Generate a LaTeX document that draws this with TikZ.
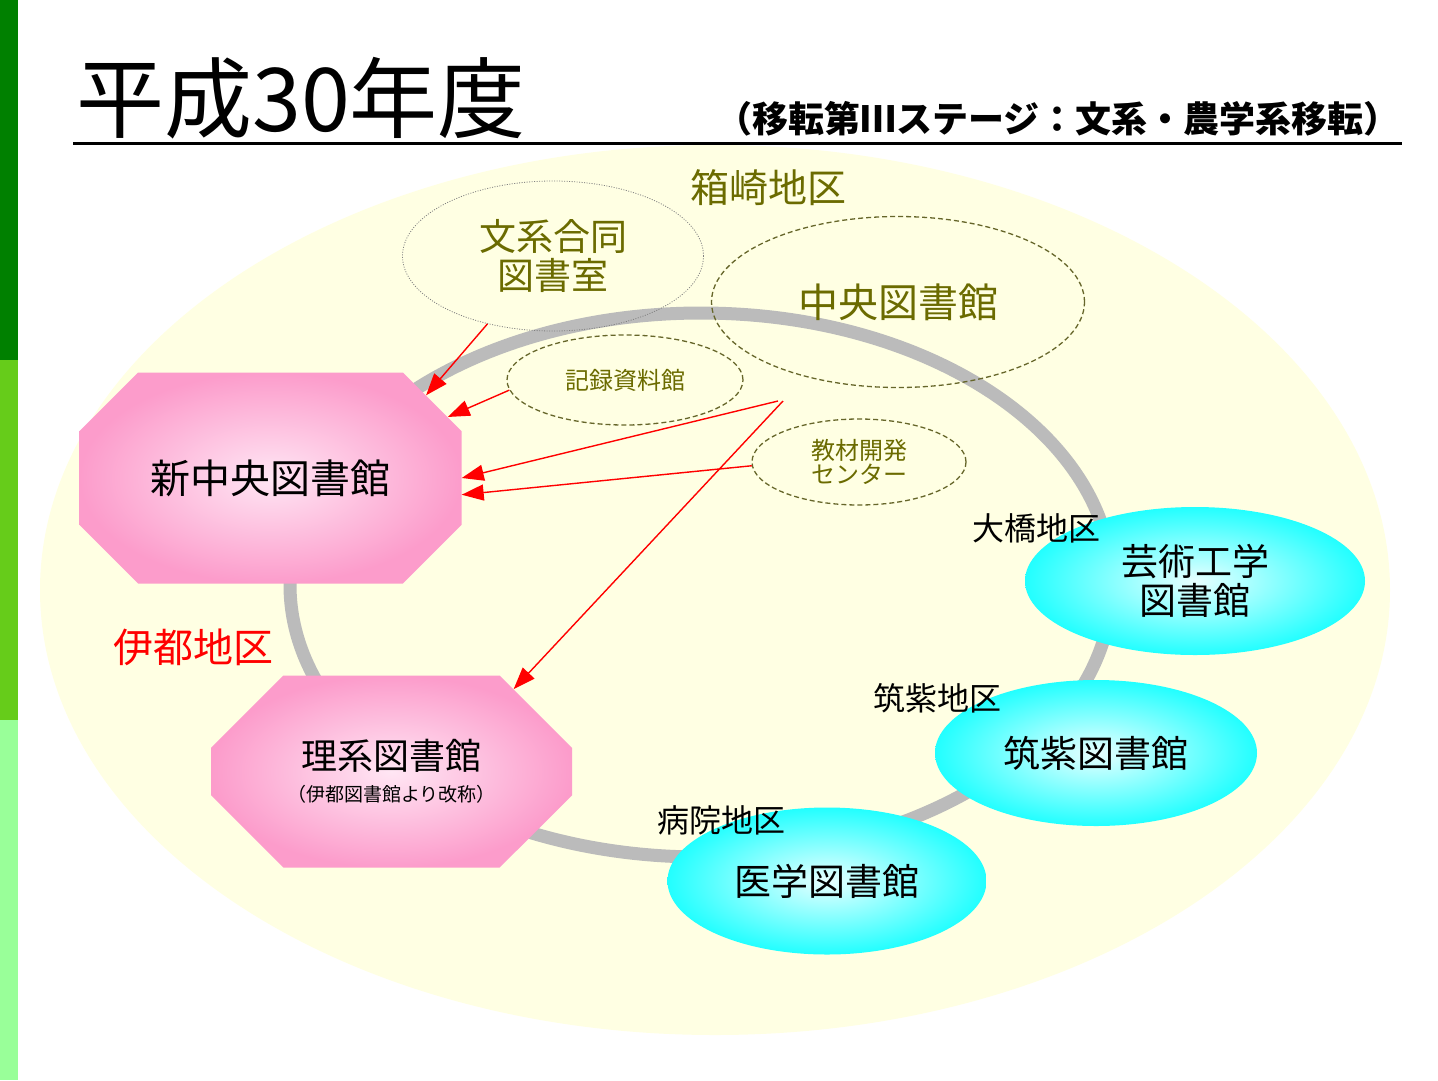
\documentclass[tikz,border=0pt]{standalone}
\usepackage{fontspec}
\setmainfont{Noto Sans CJK JP}
\usetikzlibrary{shapes.geometric,shapes.misc,arrows.meta}

\definecolor{bardark}{HTML}{008000}
\definecolor{barmid}{HTML}{66CC1A}
\definecolor{barpale}{HTML}{99FF99}
\definecolor{campus}{HTML}{FFFFE3}
\definecolor{ringgray}{HTML}{BBBBBB}
\definecolor{oldtext}{HTML}{6B6B00}
\definecolor{olddash}{HTML}{66662A}
\definecolor{pinkout}{HTML}{FC9CCB}
\definecolor{pinkin}{HTML}{FFE6F4}
\definecolor{cyanout}{HTML}{22FFFF}
\definecolor{cyanin}{HTML}{E8FFFF}

\newcommand{\fs}[1]{\fontsize{#1}{1.15\dimexpr #1pt\relax}\selectfont}

\tikzset{
  newlib/.style={chamfered rectangle, chamfered rectangle xsep=40pt,
    chamfered rectangle ysep=40pt, inner sep=0pt,
    shade, shading=radial, inner color=pinkin, outer color=pinkout,
    align=center, font=\fs{40}},
  otherlib/.style={ellipse, inner sep=0pt, shade, shading=radial,
    inner color=cyanin, outer color=cyanout, align=center, font=\fs{37}},
  oldlib/.style={ellipse, inner sep=0pt, draw=olddash, line width=1.3pt,
    dash pattern=on 5pt off 3pt, text=oldtext, align=center},
  district/.style={font=\fs{32}, inner sep=0pt},
  moveto/.style={->, red, line width=1.4pt}
}

\begin{document}
\begin{tikzpicture}[x=1pt, y=-1pt, >={Triangle[length=22pt, width=16pt]}]
  \useasboundingbox (0,0) rectangle (1438,1080);
  \fill[white] (0,0) rectangle (1438,1080);

  % 左端の帯
  \fill[bardark] (0,0) rectangle (18,360);
  \fill[barmid] (0,360) rectangle (18,720);
  \fill[barpale] (0,720) rectangle (18,1080);

  % キャンパス全体と環
  \fill[campus] (715,590) ellipse [x radius=675, y radius=445];
  \draw[ringgray, line width=13pt] (701,585) ellipse [x radius=411, y radius=272];

  % タイトル
  \node[anchor=west, inner sep=0pt, font=\fs{88}] (title) at (76,98) {平成30年度};
  \node[anchor=east, inner sep=0pt, font=\fs{36}\bfseries] (subtitle) at (1400,119)
    {（移転第Ⅲステージ：文系・農学系移転）};
  \draw[line width=3pt] (73,143) -- (1402,143);

  % 箱崎地区の旧施設
  \node[district, text=oldtext, font=\fs{39}] (hakozaki) at (768,188) {箱崎地区};
  \node[oldlib, draw=gray, line width=0.8pt, dash pattern=on 1pt off 1.5pt,
    minimum width=301pt, minimum height=150pt, font=\fs{37}, text=oldtext]
    (bunkei) at (553,256) {文系合同\\[-3pt]図書室};
  \node[oldlib, minimum width=373pt, minimum height=171pt, font=\fs{40}]
    (chuo) at (898,302) {中央図書館};
  \node[oldlib, minimum width=236pt, minimum height=90pt, font=\fs{24}]
    (kiroku) at (625,380) {記録資料館};
  \node[oldlib, minimum width=214pt, minimum height=86pt, font=\fs{24}]
    (kyozai) at (859,462) {教材開発\\[-4pt]センター};
  \coordinate (chuoA) at (778,401);
  \coordinate (chuoB) at (783,401);

  % 伊都地区
  \node[newlib, minimum width=382pt, minimum height=211pt] (shinchuo) at (270.5,478)
    {新中央図書館};
  \node[newlib, minimum width=361pt, minimum height=192pt, font=\fs{36}] (rikei) at (391.5,771.5)
    {理系図書館\\[-9pt]{\fs{19}（伊都図書館より改称）}};
  \node[district, text=red, font=\fs{40}] (ito) at (193,647) {伊都地区};

  % その他の地区
  \node[otherlib, minimum width=340pt, minimum height=148pt] (geiko) at (1195,581)
    {芸術工学\\[-4pt]図書館};
  \node[district] (ohashi) at (1036,528) {大橋地区};
  \node[otherlib, minimum width=322pt, minimum height=146pt] (chikushi) at (1096,753)
    {筑紫図書館};
  \node[district] (chikushid) at (937,698) {筑紫地区};
  \node[otherlib, minimum width=319pt, minimum height=147pt] (igaku) at (827,881)
    {医学図書館};
  \node[district] (byoin) at (721,820) {病院地区};

  % 移転の矢印
  \draw[moveto] (bunkei.-134) -- (shinchuo.28);
  \draw[moveto] (kiroku.185) -- (shinchuo.19);
  \draw[moveto] (chuoA) -- (shinchuo.0);
  \draw[moveto] (kyozai.182) -- (shinchuo.-5);
  \draw[moveto] (chuoB) -- (rikei.34);
\end{tikzpicture}
\end{document}
